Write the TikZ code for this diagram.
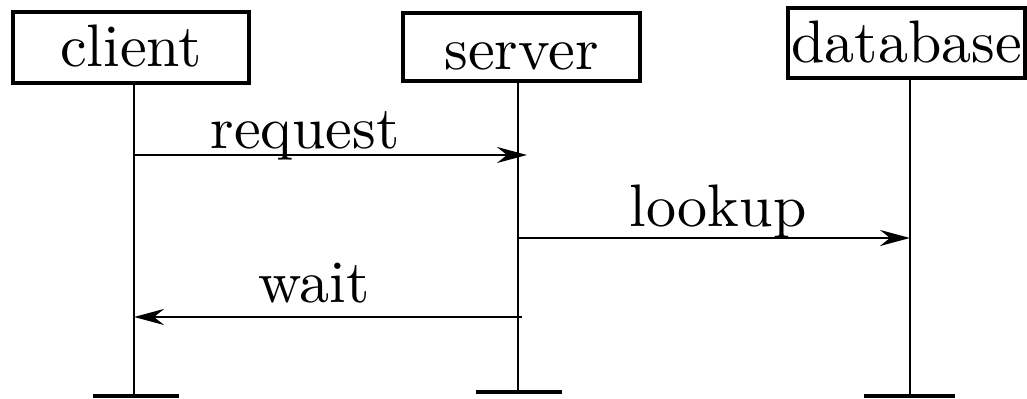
\documentclass[tikz,border=0pt]{standalone}
\usepackage{fontspec}
\newfontfamily\lmten{lmroman10-regular}[Extension=.otf]
\usetikzlibrary{arrows.meta}
\begin{document}
\begin{tikzpicture}[x=0.5pt,y=-0.5pt,
  actor/.style={draw,line width=1.6pt,inner sep=0pt,anchor=base,font=\lmten\fontsize{30}{36}\selectfont},
  life/.style={line width=1.4pt},
  endbar/.style={line width=2.2pt},
  msg/.style={line width=1.4pt,-{Stealth[length=15pt,width=8pt,inset=5pt]}},
  lbl/.style={anchor=base,inner sep=0pt,font=\lmten\fontsize{30}{36}\selectfont}]
\useasboundingbox (0,0) rectangle (1027,399);
% actors
\node[actor,minimum width=118pt,text height=27.5pt,text depth=8pt] (client) at (131,67) {client};
\node[actor,minimum width=118.5pt,text height=28.5pt,text depth=5.5pt] (server) at (521.5,70) {server};
\node[actor,minimum width=118.5pt,text height=27.5pt,text depth=7.5pt] (database) at (906.5,63) {database};
% lifeline coordinates
\coordinate (ctop) at (134,83);
\coordinate (cbot) at (134,396);
\coordinate (stop) at (518,81);
\coordinate (sbot) at (518,392);
\coordinate (dtop) at (910,78);
\coordinate (dbot) at (910,396);
\coordinate (cb1) at (93,396);
\coordinate (cb2) at (179,396);
\coordinate (sb1) at (476,392);
\coordinate (sb2) at (562,392);
\coordinate (db1) at (864,396);
\coordinate (db2) at (955,396);
\draw[life] (ctop) -- (cbot);
\draw[life] (stop) -- (sbot);
\draw[life] (dtop) -- (dbot);
\draw[endbar] (cb1) -- (cb2);
\draw[endbar] (sb1) -- (sb2);
\draw[endbar] (db1) -- (db2);
% messages
\coordinate (rq1) at (134,155);
\coordinate (rq2) at (527,155);
\coordinate (lk1) at (518,238);
\coordinate (lk2) at (910,238);
\coordinate (wt1) at (522,317);
\coordinate (wt2) at (134,317);
\draw[msg] (rq1) -- (rq2);
\draw[msg] (lk1) -- (lk2);
\draw[msg] (wt1) -- (wt2);
\node[lbl] (lrequest) at (305,149) {request};
\node[lbl] (llookup) at (718,227) {lookup};
\node[lbl] (lwait) at (314,303) {wait};
\end{tikzpicture}
\end{document}
